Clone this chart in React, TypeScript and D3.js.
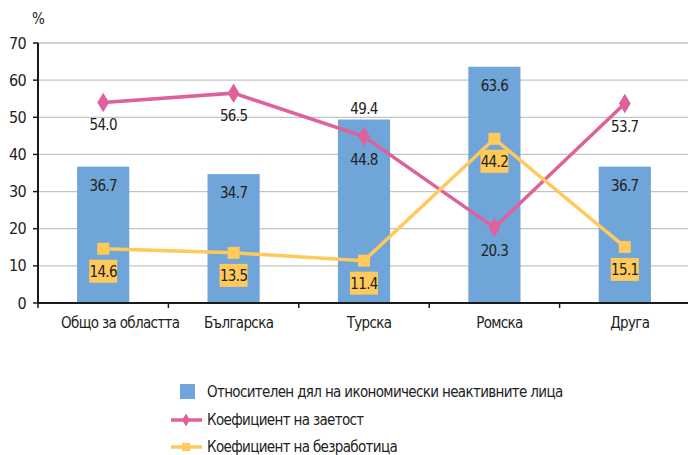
import { useEffect, useRef } from 'react';
import { scaleBand, scaleLinear, select, line, range, symbol, symbolDiamond } from 'd3';

const categories = ['Общо за областта', 'Българска', 'Турска', 'Ромска', 'Друга'];
const inactive = [36.7, 34.7, 49.4, 63.6, 36.7];
const employment = [54.0, 56.5, 44.8, 20.3, 53.7];
const unemployment = [14.6, 13.5, 11.4, 44.2, 15.1];
const yTicks = [0, 10, 20, 30, 40, 50, 60, 70];
const barLabelAbove = [false, false, true, false, false];
const legendLabels = [
  'Относителен дял на икономически неактивните лица',
  'Коефициент на заетост',
  'Коефициент на безработица',
];

const W = 688;
const H = 455;
const left = 38;
const right = 690;
const top = 43;
const bottom = 303;
const font = '"DejaVu Sans Condensed", sans-serif';
const ls = '-0.65px';
const barColor = '#6fa5d8';
const pink = '#e0609c';
const yellow = '#ffc95c';

const App = () => {
  const svgRef = useRef<SVGSVGElement>(null);

  useEffect(() => {
    const svg = select(svgRef.current);
    svg.selectAll('*').remove();

    const x = scaleBand<string>().domain(categories).range([left, right]).paddingInner(0).paddingOuter(0);
    const y = scaleLinear().domain([0, 70]).range([bottom, top]);
    const bw = x.bandwidth() * 0.4;
    const cx = (i: number) => x(categories[i])! + x.bandwidth() / 2;

    const txt = (sel: any, size = 15) =>
      sel
        .attr('font-family', font)
        .attr('font-size', size)
        .attr('letter-spacing', ls)
        .attr('fill', '#222');

    // grid
    svg
      .append('g')
      .selectAll('line')
      .data(yTicks.filter((d) => d > 0))
      .join('line')
      .attr('x1', left)
      .attr('x2', W)
      .attr('y1', (d) => y(d))
      .attr('y2', (d) => y(d))
      .attr('stroke', '#c4c4c4')
      .attr('stroke-width', 1.3);

    // bars
    svg
      .append('g')
      .selectAll('rect')
      .data(inactive)
      .join('rect')
      .attr('x', (d, i) => cx(i) - bw / 2)
      .attr('width', bw)
      .attr('y', (d) => y(d))
      .attr('height', (d) => bottom - y(d))
      .attr('fill', barColor);

    // axes
    svg
      .append('line')
      .attr('x1', left)
      .attr('x2', left)
      .attr('y1', top)
      .attr('y2', bottom)
      .attr('stroke', '#1a1a1a')
      .attr('stroke-width', 2);
    svg
      .append('line')
      .attr('x1', left)
      .attr('x2', W)
      .attr('y1', bottom)
      .attr('y2', bottom)
      .attr('stroke', '#1a1a1a')
      .attr('stroke-width', 2);

    const yAxis = svg.append('g');
    yAxis
      .selectAll('line')
      .data(yTicks)
      .join('line')
      .attr('x1', left - 5)
      .attr('x2', left)
      .attr('y1', (d) => y(d))
      .attr('y2', (d) => y(d))
      .attr('stroke', '#1a1a1a')
      .attr('stroke-width', 1.5);
    txt(
      yAxis
        .selectAll('text')
        .data(yTicks)
        .join('text')
        .attr('x', left - 12)
        .attr('y', (d) => y(d))
        .attr('dy', '0.35em')
        .attr('text-anchor', 'end')
        .text((d) => d),
      16,
    );

    txt(svg.append('text').attr('x', 32).attr('y', 24).text('%'), 15);

    svg
      .append('g')
      .selectAll('line')
      .data(range(categories.length + 1))
      .join('line')
      .attr('x1', (i) => left + i * x.bandwidth())
      .attr('x2', (i) => left + i * x.bandwidth())
      .attr('y1', bottom)
      .attr('y2', bottom + 5)
      .attr('stroke', '#1a1a1a')
      .attr('stroke-width', 1.5);

    const catText = txt(
      svg
        .append('g')
        .selectAll('text')
        .data(categories)
        .join('text')
        .attr('x', (d, i) => cx(i) + 5)
        .attr('y', bottom + 25)
        .attr('text-anchor', 'middle')
        .text((d) => d),
    );
    // keep the first label clear of the y axis
    catText.each(function (this: SVGTextElement, d: string, i: number) {
      const w = this.getComputedTextLength();
      const xMid = Math.max(cx(i) + 5, left + 23 + w / 2);
      select(this).attr('x', xMid);
    });

    // bar labels
    txt(
      svg
        .append('g')
        .selectAll('text')
        .data(inactive)
        .join('text')
        .attr('x', (d, i) => cx(i))
        .attr('y', (d, i) => (barLabelAbove[i] ? y(d) - 6 : y(d) + 24))
        .attr('text-anchor', 'middle')
        .text((d) => d.toFixed(1)),
    );

    const lineGen = line<number>()
      .x((d, i) => cx(i))
      .y((d) => y(d));

    // employment line
    svg
      .append('path')
      .attr('d', lineGen(employment))
      .attr('fill', 'none')
      .attr('stroke', pink)
      .attr('stroke-width', 3.5);
    svg
      .append('g')
      .selectAll('path')
      .data(employment)
      .join('path')
      .attr('d', symbol().type(symbolDiamond).size(110)())
      .attr('transform', (d, i) => `translate(${cx(i)},${y(d)}) scale(1.05,1)`)
      .attr('fill', pink);
    txt(
      svg
        .append('g')
        .selectAll('text')
        .data(employment)
        .join('text')
        .attr('x', (d, i) => cx(i))
        .attr('y', (d) => y(d) + 28)
        .attr('text-anchor', 'middle')
        .text((d) => d.toFixed(1)),
    );

    // unemployment line
    svg
      .append('path')
      .attr('d', lineGen(unemployment))
      .attr('fill', 'none')
      .attr('stroke', yellow)
      .attr('stroke-width', 3.5);
    svg
      .append('g')
      .selectAll('rect')
      .data(unemployment)
      .join('rect')
      .attr('x', (d, i) => cx(i) - 6)
      .attr('y', (d) => y(d) - 6)
      .attr('width', 12)
      .attr('height', 12)
      .attr('fill', yellow);
    const uLab = svg.append('g').selectAll('g').data(unemployment).join('g');
    uLab
      .append('rect')
      .attr('x', (d, i) => cx(i) - 14)
      .attr('y', (d) => y(d) + 11)
      .attr('width', 28)
      .attr('height', 23)
      .attr('fill', yellow);
    txt(
      uLab
        .append('text')
        .attr('x', (d, i) => cx(i))
        .attr('y', (d) => y(d) + 28)
        .attr('text-anchor', 'middle')
        .text((d) => d.toFixed(1)),
    );

    // legend
    const lg = svg.append('g');
    const lx = 207;
    const ly = [392, 420, 447];
    lg.append('rect').attr('x', 180).attr('y', ly[0] - 8).attr('width', 15).attr('height', 15).attr('fill', barColor);
    lg.append('line').attr('x1', 171).attr('x2', 202).attr('y1', ly[1]).attr('y2', ly[1]).attr('stroke', pink).attr('stroke-width', 3.5);
    lg.append('path')
      .attr('d', symbol().type(symbolDiamond).size(50)())
      .attr('transform', `translate(186,${ly[1]})`)
      .attr('fill', pink);
    lg.append('line').attr('x1', 171).attr('x2', 202).attr('y1', ly[2]).attr('y2', ly[2]).attr('stroke', yellow).attr('stroke-width', 3.5);
    lg.append('rect').attr('x', 182).attr('y', ly[2] - 4).attr('width', 8).attr('height', 8).attr('fill', yellow);
    txt(
      lg
        .selectAll('text')
        .data(legendLabels)
        .join('text')
        .attr('x', lx)
        .attr('y', (d, i) => ly[i])
        .attr('dy', '0.35em')
        .text((d) => d),
    );
  }, []);

  return (
    <svg
      ref={svgRef}
      width={W}
      height={H}
      style={{ position: 'absolute', left: 0, top: 0, background: '#fff' }}
    />
  );
};

export default App;
